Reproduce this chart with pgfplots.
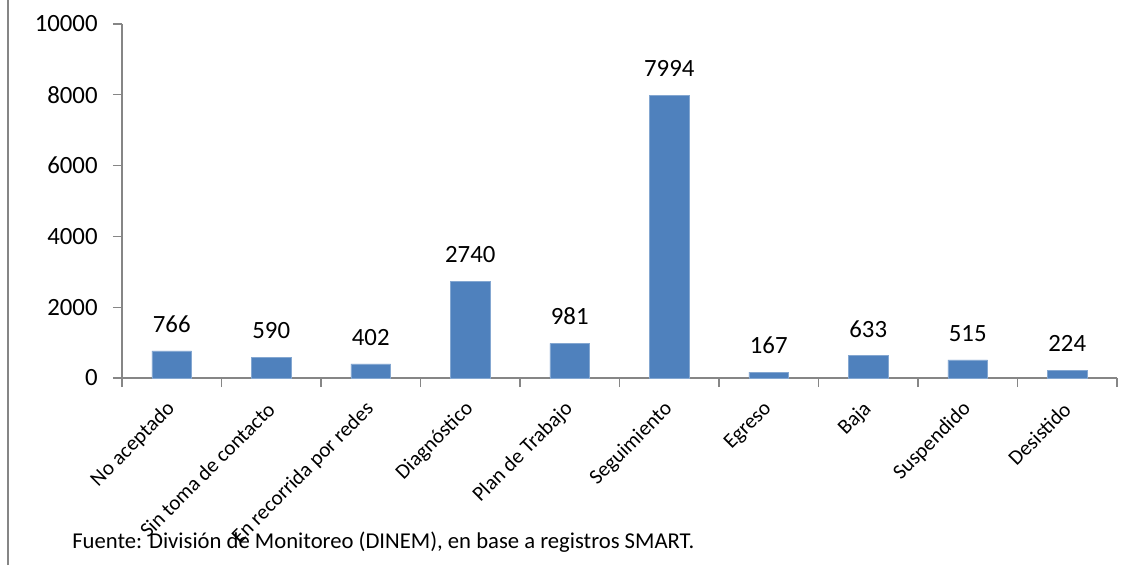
\documentclass[border=0pt]{standalone}
\usepackage{fontspec}
\setmainfont{Carlito}
\usepackage{pgfplots}
\pgfplotsset{compat=1.18}
\definecolor{barblue}{RGB}{79,129,189}
\definecolor{axgray}{RGB}{134,134,134}

\begin{document}
\begin{tikzpicture}
\useasboundingbox (-91.5pt,-140.25pt) rectangle (763.5pt,283.5pt);
\draw[axgray, line width=1.4pt] (-85.5pt,-140.25pt) -- (-85.5pt,283.5pt);
\begin{axis}[
  at={(0,0)}, anchor=south west,
  scale only axis,
  width=746.25pt, height=265.5pt,
  axis x line*=bottom, axis y line*=left,
  axis line style={axgray, line width=1pt},
  xmin=0.5, xmax=10.5,
  ymin=0, ymax=10000,
  ytick={0,2000,...,10000},
  scaled y ticks=false,
  xtick={1,...,10},
  xticklabels={No aceptado,Sin toma de contacto,En recorrida por redes,Diagnóstico,Plan de Trabajo,Seguimiento,Egreso,Baja,Suspendido,Desistido},
  minor xtick={0.5,1.5,...,10.5},
  tick align=outside,
  major tick length=6.75pt, minor tick length=6.75pt,
  tick style={axgray, line width=1pt},
  xtick style={draw=none},
  minor x tick style={axgray, line width=1pt, draw=axgray},
  every tick label/.append style={font=\fontsize{18.6}{22}\selectfont, text=black},
  yticklabel style={xshift=-8pt},
  xticklabel style={font=\fontsize{15.8}{19}\selectfont, rotate=45, anchor=east, inner sep=0pt, xshift=-10pt, yshift=-10pt},
  /pgf/number format/1000 sep={},
  /pgf/number format/assume math mode=true,
  ybar, bar width=0.4,
  nodes near coords,
  nodes near coords style={font=\fontsize{18.6}{22}\selectfont, inner sep=0pt, yshift=13.5pt, /pgf/number format/1000 sep={}, /pgf/number format/assume math mode=true},
  clip=false,
]
\addplot[fill=barblue, draw=barblue!70!white] coordinates {
(1,766) (2,590) (3,402) (4,2740) (5,981) (6,7994) (7,167) (8,633) (9,515) (10,224)
};
\end{axis}
\node[anchor=base west, inner sep=0pt, font=\fontsize{17}{20}\selectfont] at (-37.5pt,-127.5pt)
  {Fuente: División de Monitoreo (DINEM), en base a registros SMART.};
\end{tikzpicture}
\end{document}
